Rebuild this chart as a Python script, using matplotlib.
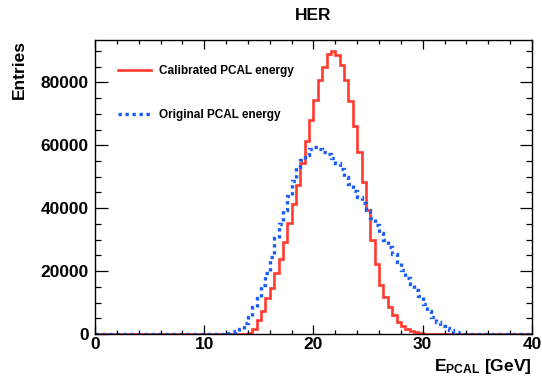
import numpy as np
import matplotlib
matplotlib.use("Agg")
import matplotlib.pyplot as plt
from matplotlib.ticker import MultipleLocator

plt.rcParams['font.family'] = ['Liberation Sans', 'DejaVu Sans']
plt.rcParams['font.weight'] = 'bold'
plt.rcParams['mathtext.fontset'] = 'custom'
plt.rcParams['mathtext.rm'] = 'Liberation Sans:bold'
plt.rcParams['mathtext.bf'] = 'Liberation Sans:bold'
plt.rcParams['mathtext.it'] = 'Liberation Sans:bold'

# 100 bins from 0 to 40 GeV
bin_lo, bin_hi, n_bins = 0.0, 40.0, 100

calibrated = [0] * 35 + [
    400, 1500, 4400, 7400, 11300, 14500, 19300, 23700, 29300, 35200,
    41200, 47500, 54400, 61400, 68000, 74300, 80600, 84900, 88900, 89900,
    88600, 85600, 80600, 74000, 66000, 57900, 48400, 39400, 30000, 22400,
    15500, 11700, 8700, 5900, 3700, 2400, 1600, 1050, 650, 320,
    150, 60] + [0] * 23

original = [0] * 29 + [
    100, 250, 500, 900, 1500, 3600, 5500, 8600, 11500, 15500,
    19500, 24500, 30500, 35000, 39500, 44000, 48500, 53000, 55200, 57000,
    58700, 59500, 58800, 58000, 57200, 55900, 54200, 52300, 50000, 47800,
    45500, 43600, 41500, 39500, 37000, 34700, 32200, 29800, 27500, 25300,
    23000, 20300, 17700, 15800, 14000, 12000, 9500, 7200, 5300, 3900,
    2600, 1800, 1200, 700, 300, 100] + [0] * 15

labels = ["Calibrated PCAL energy", "Original PCAL energy"]
title = "HER"
xlabel = r"$\mathbf{E_{PCAL}}$ [GeV]"
ylabel = "Entries"

edges = np.linspace(bin_lo, bin_hi, n_bins + 1)

fig = plt.figure(figsize=(5.42, 3.86), dpi=100)
ax = fig.add_axes([0.1753, 0.1347, 0.9815 - 0.1753, 0.8951 - 0.1347])

ax.stairs(calibrated, edges, color='#ff3a2e', linewidth=1.9, label=labels[0], baseline=None)
ax.stairs(original, edges, color='#1a5cf5', linewidth=2.4, linestyle=(0, (1.0, 1.1)),
          label=labels[1], baseline=None)

ax.set_xlim(0, 40)
ax.set_ylim(0, 93300)
ax.xaxis.set_major_locator(MultipleLocator(10))
ax.xaxis.set_minor_locator(MultipleLocator(2))
ax.yaxis.set_major_locator(MultipleLocator(20000))
ax.yaxis.set_minor_locator(MultipleLocator(5000))
ax.tick_params(which='both', direction='in', top=True, right=True, width=0.9, colors='black')
ax.tick_params(axis='x', which='major', length=6.3)
ax.tick_params(axis='x', which='minor', length=3.2)
ax.tick_params(axis='y', which='major', length=9.0)
ax.tick_params(axis='y', which='minor', length=4.6)
ax.tick_params(axis='x', labelsize=12.5, pad=2.5)
ax.tick_params(axis='y', labelsize=12.5, pad=4.5)
for lab in ax.get_xticklabels() + ax.get_yticklabels():
    lab.set_fontweight('bold')
for s in ax.spines.values():
    s.set_linewidth(1.0)

fig.text(313.5 / 542, 1 - 15 / 386, title, fontsize=12.5, fontweight='bold',
         ha='center', va='center')
ax.set_ylabel(ylabel, fontsize=12.5, fontweight='bold')
ax.yaxis.set_label_coords(-0.156, 1.0)
ax.yaxis.label.set_horizontalalignment('right')
ax.set_xlabel(xlabel, fontsize=12.5, fontweight='bold')
ax.xaxis.set_label_coords(1.0, -0.08)
ax.xaxis.label.set_horizontalalignment('right')

leg = ax.legend(loc='upper left', bbox_to_anchor=(0.029, 0.953), frameon=False,
                handlelength=2.8, handletextpad=0.68, labelspacing=2.7,
                prop={'weight': 'bold', 'size': 8.5})

fig.savefig('out.png', dpi=100)
